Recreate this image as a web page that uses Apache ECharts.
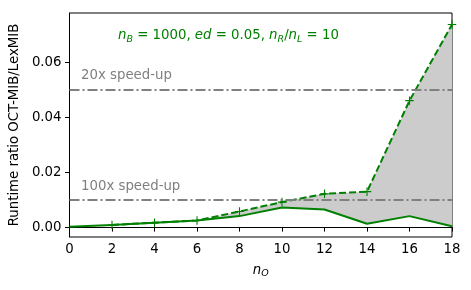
<!DOCTYPE html>
<html>
<head>
<meta charset="utf-8">
<script src="https://cdn.jsdelivr.net/npm/echarts@6/dist/echarts.min.js"></script>
<style>html,body{margin:0;padding:0;background:#fff}#c{width:471px;height:290px}</style>
</head>
<body>
<div id="c"></div>
<script>
// ---- data ----
const nO = [0, 2, 4, 6, 8, 10, 12, 14, 16, 18];
const ratioLower = [0.0001, 0.0008, 0.0016, 0.0024, 0.0040, 0.0071, 0.0064, 0.0012, 0.0040, 0.0003];
const ratioUpper = [null, 0.0008, 0.0016, 0.0024, 0.0057, 0.0091, 0.0121, 0.0129, 0.0460, 0.0737];
const speedupValues = [0.05, 0.01];
const speedupLabels = ['20x speed-up', '100x speed-up'];
const yTicks = [0, 0.02, 0.04, 0.06];

const FONT = 'DejaVu Sans';
const GREEN = '#008000';
const chart = echarts.init(document.getElementById('c'), null, {renderer: 'canvas'});

const plusPath = 'path://M4.35,0H5.65V4.35H10V5.65H5.65V10H4.35V5.65H0V4.35H4.35Z';

const pts = arr => nO.map((x, i) => [x, arr[i]]);

chart.setOption({
  animation: false,
  grid: {show: true, borderColor: '#000', borderWidth: 1, backgroundColor: 'transparent',
    left: 69, right: 19, top: 13, bottom: 53},
  xAxis: {
    type: 'value', min: 0, max: 18, interval: 2,
    axisLine: {show: true, lineStyle: {color: '#000', width: 1}},
    axisTick: {show: true, length: 4.5, lineStyle: {color: '#000', width: 1}},
    axisLabel: {color: '#000', fontFamily: FONT, fontSize: 13.3, margin: 6},
    splitLine: {show: false},
    name: '{i|n}{s|O}', nameLocation: 'middle', nameGap: 26,
    nameTextStyle: {rich: {
      i: {fontFamily: FONT, fontStyle: 'italic', fontSize: 13.3, color: '#000'},
      s: {fontFamily: FONT, fontStyle: 'italic', fontSize: 9.5, color: '#000', verticalAlign: 'bottom', padding: [6, 0, 0, 0]}
    }}
  },
  yAxis: {
    type: 'value', min: -0.0036, max: 0.0779,
    axisLine: {show: true, lineStyle: {color: '#000', width: 1}},
    axisTick: {show: true, length: 4.5, customValues: yTicks, lineStyle: {color: '#000', width: 1}},
    axisLabel: {color: '#000', fontFamily: FONT, fontSize: 13.3, margin: 8, customValues: yTicks,
      formatter: v => v.toFixed(2)},
    splitLine: {show: false},
    name: 'Runtime ratio OCT-MIB/LexMIB', nameLocation: 'middle', nameGap: 35,
    nameTextStyle: {color: '#000', fontFamily: FONT, fontSize: 13.3}
  },
  series: [
    {
      type: 'custom', data: [0], silent: true, z: 1, clip: true,
      renderItem: function (params, api) {
        const upper = [], lower = [];
        nO.forEach((x, i) => {
          if (ratioUpper[i] != null) {
            upper.push(api.coord([x, ratioUpper[i]]));
            lower.push(api.coord([x, ratioLower[i]]));
          }
        });
        return {
          type: 'polygon',
          shape: {points: upper.concat(lower.reverse())},
          style: {fill: '#cccccc', stroke: null}
        };
      }
    },
    {
      type: 'line', data: [], z: 2,
      markLine: {
        silent: true, symbol: 'none', animation: false,
        label: {show: false},
        lineStyle: {color: '#808080', width: 2, type: [10, 3, 2, 3]},
        data: speedupValues.map(v => ({yAxis: v}))
      }
    },
    {
      type: 'line', data: pts(ratioLower), symbol: 'none', z: 3,
      lineStyle: {color: GREEN, width: 2}
    },
    {
      type: 'line', data: pts(ratioUpper), z: 4,
      symbol: plusPath, symbolSize: 8.5, itemStyle: {color: GREEN},
      lineStyle: {color: GREEN, width: 2, type: [7, 3]}
    }
  ],
  graphic: [
    ...speedupLabels.map((t, i) => ({
      type: 'text', left: 81, top: i === 0 ? 69 : 180, z: 10,
      style: {text: t, fill: '#808080', font: '13.3px "DejaVu Sans"'}
    })),
    {
      type: 'text', left: 118, top: 29, z: 10,
      style: {
        text: '{i|n}{s|B}{r| = 1000, }{i|ed}{r| = 0.05, }{i|n}{s|R}{r|/}{i|n}{s|L}{r| = 10}',
        rich: {
          i: {fontFamily: FONT, fontStyle: 'italic', fontSize: 13.3, fill: GREEN, verticalAlign: 'bottom'},
          r: {fontFamily: FONT, fontSize: 13.3, fill: GREEN, verticalAlign: 'bottom'},
          s: {fontFamily: FONT, fontStyle: 'italic', fontSize: 9.5, fill: GREEN, verticalAlign: 'bottom', padding: [0, 0, -3, 0]}
        }
      }
    }
  ]
});
</script>
</body>
</html>
